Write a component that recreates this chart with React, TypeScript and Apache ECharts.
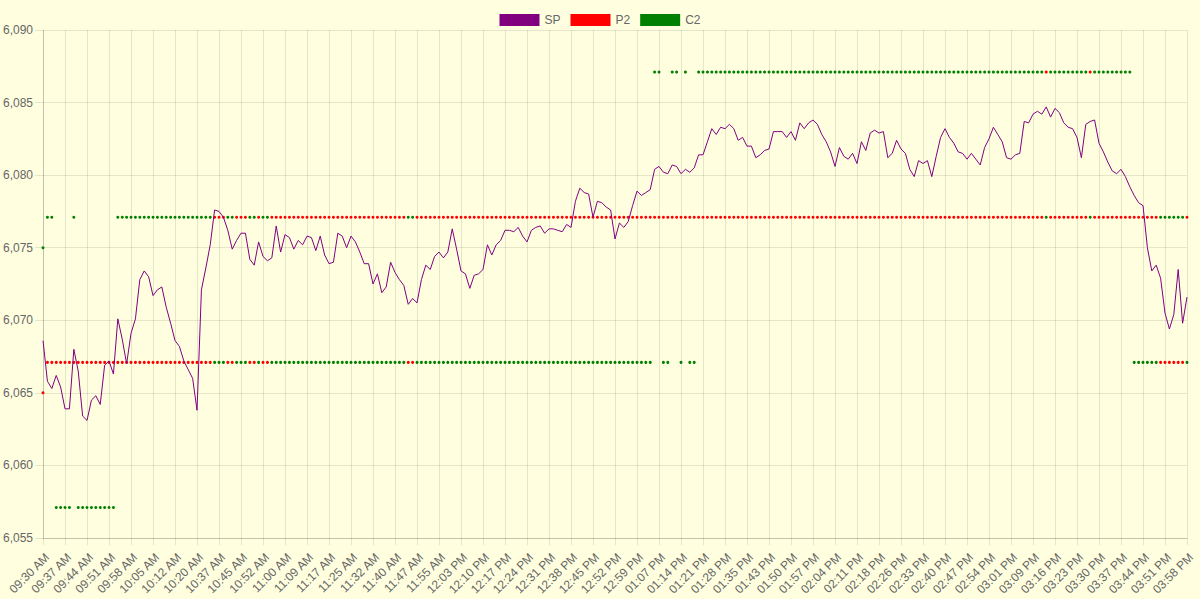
import React, { useEffect, useRef } from "react";
import * as echarts from "echarts";

// x-axis tick labels (every 5th category is labelled)
const tickLabels: string[] = [
  "09:30 AM", "09:37 AM", "09:44 AM", "09:51 AM", "09:58 AM", "10:05 AM", "10:12 AM", "10:20 AM",
  "10:37 AM", "10:45 AM", "10:52 AM", "11:00 AM", "11:09 AM", "11:17 AM", "11:25 AM", "11:32 AM",
  "11:40 AM", "11:47 AM", "11:55 AM", "12:03 PM", "12:10 PM", "12:17 PM", "12:24 PM", "12:31 PM",
  "12:38 PM", "12:45 PM", "12:52 PM", "12:59 PM", "01:07 PM", "01:14 PM", "01:21 PM", "01:28 PM",
  "01:35 PM", "01:43 PM", "01:50 PM", "01:57 PM", "02:04 PM", "02:11 PM", "02:18 PM", "02:26 PM",
  "02:33 PM", "02:40 PM", "02:47 PM", "02:54 PM", "03:01 PM", "03:09 PM", "03:16 PM", "03:23 PM",
  "03:30 PM", "03:37 PM", "03:44 PM", "03:51 PM", "03:58 PM",
];

// SP price series
const spValues: number[] = [
  6068.6, 6065.8, 6065.3, 6066.2, 6065.4, 6063.9, 6063.9, 6068.0, 6066.5, 6063.4,
  6063.1, 6064.5, 6064.8, 6064.2, 6066.9, 6067.2, 6066.3, 6070.1, 6068.7, 6067.0,
  6069.1, 6070.1, 6072.8, 6073.4, 6073.0, 6071.7, 6072.1, 6072.3, 6070.9, 6069.8,
  6068.6, 6068.2, 6067.2, 6066.6, 6066.0, 6063.8, 6072.1, 6073.6, 6075.2, 6077.6,
  6077.5, 6077.1, 6076.2, 6074.9, 6075.5, 6076.0, 6076.0, 6074.2, 6073.8, 6075.4,
  6074.4, 6074.1, 6074.3, 6076.5, 6074.7, 6075.9, 6075.7, 6074.9, 6075.5, 6075.2,
  6075.8, 6075.7, 6074.8, 6075.8, 6074.5, 6073.9, 6074.0, 6076.0, 6075.8, 6075.0,
  6075.8, 6075.4, 6074.7, 6073.9, 6073.9, 6072.5, 6073.2, 6071.9, 6072.3, 6074.0,
  6073.3, 6072.8, 6072.4, 6071.1, 6071.5, 6071.2, 6072.8, 6073.8, 6073.5, 6074.4,
  6074.7, 6074.3, 6074.7, 6076.3, 6074.9, 6073.4, 6073.2, 6072.2, 6073.1, 6073.2,
  6073.5, 6075.2, 6074.5, 6075.2, 6075.5, 6076.2, 6076.2, 6076.1, 6076.4, 6075.8,
  6075.4, 6076.2, 6076.4, 6076.5, 6076.0, 6076.3, 6076.3, 6076.2, 6076.1, 6076.6,
  6076.4, 6078.2, 6079.1, 6078.8, 6078.7, 6077.1, 6078.2, 6078.1, 6077.8, 6077.6,
  6075.6, 6076.7, 6076.4, 6076.8, 6077.9, 6078.9, 6078.6, 6078.8, 6079.0, 6080.4,
  6080.6, 6080.2, 6080.1, 6080.7, 6080.6, 6080.1, 6080.4, 6080.2, 6080.5, 6081.4,
  6081.4, 6082.3, 6083.2, 6082.8, 6083.3, 6083.2, 6083.5, 6083.2, 6082.4, 6082.6,
  6082.0, 6082.0, 6081.2, 6081.4, 6081.7, 6081.8, 6083.0, 6083.0, 6083.0, 6082.6,
  6083.0, 6082.4, 6083.6, 6083.2, 6083.6, 6083.8, 6083.5, 6082.8, 6082.3, 6081.6,
  6080.6, 6081.9, 6081.3, 6081.1, 6081.5, 6080.8, 6082.3, 6081.7, 6082.9, 6083.1,
  6082.9, 6083.0, 6081.2, 6081.5, 6082.4, 6081.8, 6081.5, 6080.4, 6079.9, 6081.0,
  6080.8, 6081.0, 6079.9, 6081.3, 6082.6, 6083.2, 6082.6, 6082.2, 6081.6, 6081.5,
  6081.1, 6081.5, 6081.1, 6080.7, 6081.9, 6082.5, 6083.3, 6082.8, 6082.3, 6081.2,
  6081.1, 6081.4, 6081.5, 6083.7, 6083.6, 6084.2, 6084.4, 6084.2, 6084.7, 6084.0,
  6084.6, 6084.3, 6083.6, 6083.3, 6083.2, 6082.6, 6081.2, 6083.5, 6083.7, 6083.8,
  6082.2, 6081.6, 6080.9, 6080.3, 6080.1, 6080.4, 6079.9, 6079.2, 6078.6, 6078.1,
  6077.9, 6075.0, 6073.4, 6073.8, 6072.9, 6070.5, 6069.4, 6070.4, 6073.5, 6069.8,
  6071.6,
];

// P2 dots as [value, number of consecutive points]
const p2Runs: [number, number][] = [
  [6065.0, 1], [6067.1, 38], [6077.1, 3], [6067.1, 2], [6077.1, 3], [6067.1, 2],
  [6077.1, 1], [6067.1, 2], [6077.1, 31], [6067.1, 2], [6077.1, 143], [6087.1, 1],
  [6077.1, 9], [6087.1, 1], [6077.1, 15], [6067.1, 6], [6077.1, 1],
];

// C2 dots as [value, number of consecutive points]
const c2Runs: [number, number][] = [
  [6075.0, 1], [6077.1, 2], [6057.1, 4], [6077.1, 1], [6057.1, 9], [6077.1, 22],
  [6067.1, 3], [6077.1, 2], [6067.1, 3], [6077.1, 2], [6067.1, 1], [6077.1, 2],
  [6067.1, 31], [6077.1, 2], [6067.1, 54], [6087.1, 2], [6067.1, 2], [6087.1, 2],
  [6067.1, 1], [6087.1, 1], [6067.1, 2], [6087.1, 79], [6077.1, 1], [6087.1, 9],
  [6077.1, 1], [6087.1, 9], [6067.1, 6], [6077.1, 6], [6067.1, 1],
];

function expandRuns(runs: [number, number][]): number[] {
  const out: number[] = [];
  for (const [v, n] of runs) for (let k = 0; k < n; k++) out.push(v);
  return out;
}

const p2Values = expandRuns(p2Runs);
const c2Values = expandRuns(c2Runs);

const categories = spValues.map((_, i) =>
  i % 5 === 0 ? tickLabels[i / 5] : `${tickLabels[Math.floor(i / 5)]} +${i % 5}`
);

const FONT = "'Liberation Sans', Arial, Helvetica, sans-serif";
const GRID = "rgba(0,0,0,0.1)";

export default function App() {
  const ref = useRef<HTMLDivElement>(null);

  useEffect(() => {
    if (!ref.current) return;
    const chart = echarts.init(ref.current, undefined, { renderer: "svg" });
    chart.setOption({
      animation: false,
      backgroundColor: "#ffffe0",
      textStyle: { fontFamily: FONT },
      legend: {
        top: 9,
        left: "center",
        icon: "rect",
        itemWidth: 40,
        itemHeight: 12,
        itemGap: 10,
        textStyle: { color: "#666", fontSize: 12, fontFamily: FONT },
        data: ["SP", "P2", "C2"],
      },
      grid: { left: 41, right: 13, top: 30, bottom: 61, containLabel: false },
      xAxis: {
        type: "category",
        boundaryGap: false,
        data: categories,
        axisLine: { show: true, lineStyle: { color: "rgba(0,0,0,0.15)", width: 1 } },
        axisTick: { show: true, interval: 4, length: 7, lineStyle: { color: GRID } },
        axisLabel: {
          interval: 4,
          rotate: 45,
          color: "#666",
          fontSize: 12,
          fontFamily: FONT,
          margin: 13,
          verticalAlign: "top",
        },
        splitLine: { show: true, interval: 4, lineStyle: { color: GRID, width: 1 } },
      },
      yAxis: {
        type: "value",
        min: 6055,
        max: 6090,
        interval: 5,
        axisLine: { show: true, lineStyle: { color: "rgba(0,0,0,0.15)", width: 1 } },
        axisTick: { show: true, length: 8, lineStyle: { color: GRID } },
        axisLabel: {
          color: "#666",
          fontSize: 12,
          fontFamily: FONT,
          margin: 10,
          formatter: (v: number) => v.toLocaleString("en-US"),
        },
        splitLine: { show: true, lineStyle: { color: GRID, width: 1 } },
      },
      series: [
        {
          name: "SP",
          type: "line",
          data: spValues,
          color: "#800080",
          showSymbol: false,
          smooth: false,
          lineStyle: { width: 1, color: "#800080" },
          itemStyle: { color: "#800080", opacity: 1 },
          z: 5,
        },
        {
          name: "P2",
          type: "scatter",
          data: p2Values,
          color: "#ff0000",
          symbol: "circle",
          symbolSize: 3,
          itemStyle: { color: "#ff0000", opacity: 1 },
          z: 3,
        },
        {
          name: "C2",
          type: "scatter",
          data: c2Values,
          color: "#008000",
          symbol: "circle",
          symbolSize: 3,
          itemStyle: { color: "#008000", opacity: 1 },
          z: 3,
        },
      ],
    });
    return () => chart.dispose();
  }, []);

  return (
    <div
      ref={ref}
      style={{ position: "absolute", left: 0, top: 0, width: 1200, height: 599 }}
    />
  );
}
